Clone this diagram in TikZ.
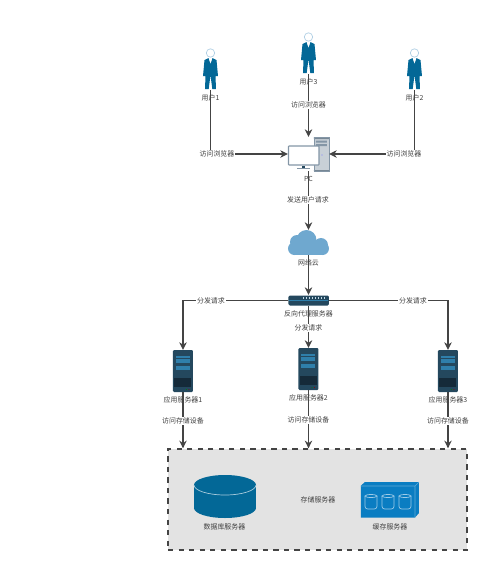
\documentclass[tikz,border=0pt]{standalone}
\usepackage{fontspec}
\setmainfont{Noto Sans CJK SC}
\usepackage{xcolor}
\usetikzlibrary{arrows.meta}

\definecolor{suitblue}{HTML}{036897}
\definecolor{cloudblue}{HTML}{6FA8CF}
\definecolor{rackdark}{HTML}{24485E}
\definecolor{rackblock}{HTML}{152A39}
\definecolor{rackpanel}{HTML}{2F7FAB}
\definecolor{cacheblue}{HTML}{0A7DC2}
\definecolor{boxgrey}{HTML}{E3E3E3}
\definecolor{linegrey}{HTML}{444444}
\definecolor{pcgrey}{HTML}{8496A6}

\tikzset{
    conn/.style={draw=linegrey, line width=0.8pt, -{Stealth[length=4.4pt,width=4.2pt]}},
    plainlabel/.style={font=\fontsize{3.95}{4.5}\selectfont, text=black!75, inner sep=0.4pt},
    edgelabel/.style={plainlabel, fill=white},
    iconbox/.style={inner sep=0, outer sep=0, minimum width=#1*0.02cm},
    pics/userfig/.style={code={
        \fill[suitblue] (-2,-11) -- (-6,-9) -- (-7.5,7) -- (-5.2,7) -- (-4.8,2) -- (-5.5,20) -- (-1.8,20) -- (0,6)
            -- (1.8,20) -- (5.5,20) -- (4.8,2) -- (5.2,7) -- (7.5,7) -- (6,-9) -- (2,-11) -- (0,-5) -- cycle;
        \draw[cloudblue!55, fill=white, line width=0.4pt] (0,-16) circle (4.2);
    }},
    pics/rackfig/.style={code={
        \fill[rackdark, rounded corners=0.6pt] (-10,-21) rectangle (10,21);
        \fill[rackblock] (-8.5,6.7) rectangle (8.5,15.7);
        \foreach \y in {-14,-11.5,-9,-3.6,-1.6} {
            \fill[rackpanel] (-7,\y-1) rectangle (7,\y+1);
        }
        \fill[green!50!black] (3.5,18.5) circle (0.5);
        \fill[red!60!black] (6,18.5) circle (0.5);
    }}
}

\begin{document}
\begin{tikzpicture}[x=0.02cm, y=-0.02cm]
    \useasboundingbox (0,0) rectangle (500,583);

    % Storage area
    \node[draw=linegrey, fill=boxgrey, dashed, line width=0.75pt, inner sep=0, minimum width=299*0.02cm, minimum height=101*0.02cm] (storage) at (317.5,499.5) {};
    \node[plainlabel] (storagelabel) at (318,500) {存储服务器};

    % Database cylinder
    \node[iconbox=62, minimum height=43*0.02cm] (db) at (225,496.5) {};
    \fill[suitblue] (194,485) rectangle (256,508);
    \fill[suitblue] (225,508) ellipse [x radius=31, y radius=10];
    \fill[suitblue] (225,485) ellipse [x radius=31, y radius=10];
    \draw[white!65!suitblue, line width=0.4pt] (194,485) arc [start angle=180, end angle=360, x radius=31, y radius=-10];
    \node[plainlabel] (dblabel) at (224.5,527) {数据库服务器};

    % Cache box
    \node[iconbox=58, minimum height=36*0.02cm] (cache) at (390,500) {};
    \fill[cacheblue] (361,485.5) -- (365,482) -- (419,482) -- (419,513) -- (415,517.5) -- (361,517.5) -- cycle;
    \draw[white!35!cacheblue, line width=0.3pt] (361,486) -- (415,486) -- (415,517.5) (415,486) -- (419,482);
    \foreach \x in {371,388,405} {
        \draw[white!60!cacheblue, line width=0.4pt, rounded corners=1.5pt] (\x-6,496) -- (\x-6,509) -- (\x+6,509) -- (\x+6,496);
        \draw[white!60!cacheblue, line width=0.4pt, fill=cacheblue] (\x,496) ellipse [x radius=6, y radius=1.5];
    }
    \node[plainlabel] (cachelabel) at (390,527) {缓存服务器};

    % Users
    \foreach \name/\x/\y/\txt in {user1/210.5/69/用户1, user2/414.5/69/用户2, user3/308.5/53/用户3} {
        \node[iconbox=15, minimum height=40*0.02cm] (\name) at (\x,\y+1) {};
        \pic at (\x,\y+0) {userfig};
        \node[plainlabel] at (\x,\y+29) {\txt};
    }

    % PC
    \node[iconbox=41, minimum height=34*0.02cm] (pc) at (308.5,154) {};
    \fill[pcgrey!45] (314,137) rectangle (329,171);
    \fill[pcgrey!90!black] (314,137) rectangle (329,139) (314,170) rectangle (329,171);
    \fill[pcgrey] (316,140.5) rectangle (327,142.5) (316,144) rectangle (327,146);
    \draw[pcgrey, line width=0.5pt] (314,137) rectangle (329,171);
    \fill[blue!50] (322,155) circle (0.7);
    \draw[pcgrey, fill=white, line width=0.6pt, rounded corners=0.4pt] (288.5,146) rectangle (319,165);
    \fill[rackdark] (302,165.5) rectangle (305,168);
    \fill[pcgrey] (297,168) rectangle (310,168.8);
    \node[plainlabel] (pclabel) at (308.5,179) {PC};

    % Cloud
    \node[iconbox=41, minimum height=25*0.02cm] (cloud) at (308.5,242.5) {};
    \fill[cloudblue] (306.5,240) circle (10);
    \fill[cloudblue] (297,242) circle (7);
    \fill[cloudblue] (321,245) circle (7);
    \fill[cloudblue] (294.5,248.5) circle (6.5);
    \fill[cloudblue] (322.5,248.5) circle (6.5);
    \fill[cloudblue] (294.5,243) rectangle (322.5,255);
    \node[plainlabel] (cloudlabel) at (308.5,263) {网络云};

    % Proxy
    \node[iconbox=41, minimum height=11*0.02cm] (proxy) at (308.5,300.5) {};
    \fill[rackdark, rounded corners=0.8pt] (288.5,295.5) rectangle (329,305.5);
    \fill[rackpanel] (289,300) rectangle (328.5,301);
    \foreach \x in {303,306,...,324} {
        \fill[white!70!rackpanel] (\x,297) rectangle (\x+1.5,298.5);
    }
    \node[plainlabel] (proxylabel) at (308.5,314) {反向代理服务器};

    % Application servers
    \foreach \name/\x/\y/\txt in {app1/183/371/应用服务器1, app2/308.5/369/应用服务器2, app3/448/371/应用服务器3} {
        \node[iconbox=20, minimum height=42*0.02cm] (\name) at (\x,\y) {};
        \pic at (\x,\y) {rackfig};
        \node[plainlabel] at (\x,\y+29) {\txt};
    }

    % Connectors
    \draw[conn] (user1) |- (pc);
    \draw[conn] (user2) |- (pc);
    \draw[conn] (user3) -- (pc);
    \draw[conn] (pc) -- (cloud);
    \draw[conn] (cloud) -- (proxy);
    \draw[conn] (proxy) -| (app1);
    \draw[conn] (proxy) -- (app2);
    \draw[conn] (proxy) -| (app3);
    \draw[conn] (app1) -- (app1 |- storage.north);
    \draw[conn] (app2) -- (app2 |- storage.north);
    \draw[conn] (app3) -- (app3 |- storage.north);

    % Connector labels
    \foreach \x/\y/\txt in {217/154/访问浏览器, 404/154/访问浏览器, 308.5/105/访问浏览器, 308/200/发送用户请求,
        211/301/分发请求, 413/301/分发请求, 308.5/328/分发请求,
        183/421/访问存储设备, 308.5/420/访问存储设备, 448/421/访问存储设备} {
        \node[edgelabel] at (\x,\y) {\txt};
    }
\end{tikzpicture}
\end{document}
